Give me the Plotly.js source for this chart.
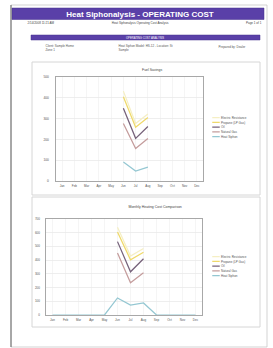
<!DOCTYPE html>
<html><head><meta charset="utf-8">
<script src="https://cdn.plot.ly/plotly-3.0.1.min.js"></script>
<style>
html,body{margin:0;padding:0;background:#fff;overflow:hidden;width:273px;height:348px;}
#wrap{width:273px;height:348px;overflow:hidden;position:relative;}
#chart{position:absolute;left:0;top:0;transform-origin:0 0;}
</style></head><body>
<div id="wrap"><div id="chart"></div></div>
<script>
// ---- data ----
var months = ["Jan","Feb","Mar","Apr","May","Jun","Jul","Aug","Sep","Oct","Nov","Dec"];
var seriesNames = ["Electric Resistance","Propane (LP Gas)","Oil","Natural Gas","Heat Siphon"];
var seriesColors = ["#f5efc4","#efd96a","#76627a","#c49c9c","#94c7d2"];
// chart 1: fuel cost per period (Jun-Aug)
var fuelMonths = ["Jun","Jul","Aug"];
var fuelElectric = [432, 276, 322];
var fuelPropane = [405, 258, 305];
var fuelOil = [350, 205, 262];
var fuelGas = [276, 156, 204];
var fuelSiphon = [91, 48, 67];
// chart 2: monthly operating cost
var monElectric = [null,null,null,null,null,640,430,485,null,null,null,null];
var monPropane = [null,null,null,null,null,605,402,458,null,null,null,null];
var monOil = [null,null,null,null,null,535,315,410,null,null,null,null];
var monGas = [null,null,null,null,null,452,235,308,null,null,null,null];
var monSiphon = [0,0,0,0,0,124,72,88,0,0,0,0];
var y1Ticks = [0,100,200,300,400,500];
var y2Ticks = [0,100,200,300,400,500,600,700];

// ---- layout helpers (reference pixel units) ----
var S = 4, W = 273, H = 348;
function px(x){return x/W;}
function py(y){return 1 - y/H;}
var FONT = "Liberation Sans, Arial, sans-serif";

var traces = [];
var s1 = [fuelElectric, fuelPropane, fuelOil, fuelGas, fuelSiphon];
var s2 = [monElectric, monPropane, monOil, monGas, monSiphon];
for (var i=0;i<5;i++){
  traces.push({x:fuelMonths, y:s1[i], type:"scatter", mode:"lines", name:seriesNames[i],
    line:{color:seriesColors[i], width:5}, xaxis:"x", yaxis:"y", legend:"legend"});
}
for (var i=0;i<5;i++){
  traces.push({x:months, y:s2[i], type:"scatter", mode:"lines", name:seriesNames[i],
    line:{color:seriesColors[i], width:5}, xaxis:"x2", yaxis:"y2", legend:"legend2", connectgaps:false});
}

function rect(x0,y0,x1,y1,fill,line,lw){
  return {type:"rect", xref:"paper", yref:"paper", x0:px(x0), x1:px(x1), y0:py(y0), y1:py(y1),
    fillcolor:fill||"rgba(0,0,0,0)", line:{color:line||"rgba(0,0,0,0)", width:lw||0}, layer:"below"};
}
function txt(x,y,t,size,color,anchor,bold){
  return {xref:"paper", yref:"paper", x:px(x), y:py(y), text:bold?"<b>"+t+"</b>":t, showarrow:false,
    xanchor:anchor||"center", yanchor:"middle", font:{family:FONT, size:size, color:color||"#333"}};
}

var shapes = [
  rect(11,5,267,347,"#ffffff","#c4c4c4",3),
  {type:"line", xref:"paper", yref:"paper", x0:px(11), x1:px(11), y0:py(5), y1:py(347), line:{color:"#666", width:4}},
  rect(12,8,264,19.5,"#5a40a8","#46318f",2),
  rect(31,35,260,40,"#5a40a8","#46318f",2),
  rect(32,62,260,195,"#ffffff","#d6d6d6",4),
  rect(32,197,260,327,"#ffffff","#d6d6d6",4)
];
var annotations = [
  txt(140,13.8,"Heat Siphonalysis - OPERATING COST",32,"#ffffff","center",true),
  txt(27,22.5,"2/14/2008 11:21 AM",12,"#444","left"),
  txt(140,22.5,"Heat Siphonalysis Operating Cost Analysis",12,"#444","center"),
  txt(262,22.5,"Page 1 of 1",12,"#444","right"),
  txt(145,37.5,"OPERATING COST ANALYSIS",11,"#ffffff","center"),
  txt(45,46,"Client: Sample Home",12,"#555","left"),
  txt(45,49.5,"Zone 1",12,"#555","left"),
  txt(118,46,"Heat Siphon Model: HS-12 - Location: St",12,"#555","left"),
  txt(118,49.5,"Sample",12,"#555","left"),
  txt(218,46.5,"Prepared by: Dealer",12,"#555","left"),
  txt(152,70,"Fuel Savings",14,"#444","center"),
  txt(155,207,"Monthly Heating Cost Comparison",14,"#444","center")
];

function axisBase(){
  return {showgrid:true, gridcolor:"#e8e8e8", gridwidth:3, showline:true, linecolor:"#a8a8a8", linewidth:4,
    mirror:true, zeroline:false, ticks:"", tickfont:{family:FONT, size:12, color:"#555"}, fixedrange:true};
}
var xa1 = axisBase(); xa1.domain=[px(56),px(203)]; xa1.anchor="y"; xa1.type="category";
xa1.categoryorder="array"; xa1.categoryarray=months; xa1.tickvals=months; xa1.range=[-0.5,11.5];
xa1.ticklabelstandoff=6; xa1.gridcolor="#f2f2f2";
var ya1 = axisBase(); ya1.domain=[py(181),py(77)]; ya1.anchor="x"; ya1.range=[0,500];
ya1.tickvals=y1Ticks; ya1.tickprefix="$"; ya1.ticklabelstandoff=22; ya1.tickfont={family:FONT,size:13,color:"#555"};
var xa2 = axisBase(); xa2.domain=[px(46),px(202)]; xa2.anchor="y2"; xa2.type="category";
xa2.categoryorder="array"; xa2.categoryarray=months; xa2.tickvals=months; xa2.range=[-0.5,11.5];
xa2.ticklabelstandoff=6; xa2.gridcolor="#f2f2f2";
var ya2 = axisBase(); ya2.domain=[py(315),py(219)]; ya2.anchor="x2"; ya2.range=[0,700];
ya2.tickvals=y2Ticks; ya2.ticklabelstandoff=18;

var legendFont = {family:FONT, size:12, color:"#555"};
var layout = {
  width:W*S, height:H*S, margin:{l:0,r:0,t:0,b:0}, paper_bgcolor:"#ffffff", plot_bgcolor:"#ffffff",
  showlegend:true,
  xaxis:xa1, yaxis:ya1, xaxis2:xa2, yaxis2:ya2,
  legend:{x:px(211), y:py(114), xanchor:"left", yanchor:"top", font:legendFont, bgcolor:"rgba(0,0,0,0)",
    itemwidth:30, tracegroupgap:0},
  legend2:{x:px(211), y:py(253), xanchor:"left", yanchor:"top", font:legendFont, bgcolor:"rgba(0,0,0,0)",
    itemwidth:30, tracegroupgap:0},
  shapes:shapes, annotations:annotations
};
var el = document.getElementById("chart");
el.style.transform = "scale(" + (1/S) + ")";
Plotly.newPlot(el, traces, layout, {staticPlot:true, displayModeBar:false});
</script></body></html>
